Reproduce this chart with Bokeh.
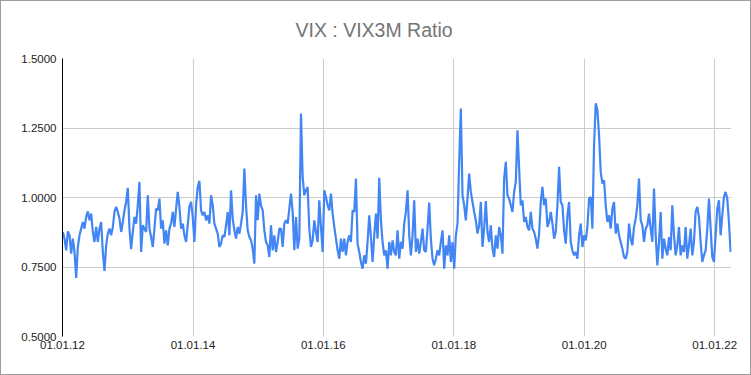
import pandas as pd
from bokeh.plotting import figure
from bokeh.models import (Range1d, FixedTicker, NumeralTickFormatter,
                          DatetimeTickFormatter, ColumnDataSource)
from bokeh.embed import file_html
from bokeh.resources import INLINE

title_text = "VIX : VIX3M Ratio"
start_date = "2012-01-03"
end_date = "2022-03-31"
tick_dates = ["2012-01-01", "2014-01-01", "2016-01-01",
              "2018-01-01", "2020-01-01", "2022-01-01"]
y_ticks = [0.5, 0.75, 1.0, 1.25, 1.5]

ratio = [
    0.876, 0.852, 0.810, 0.878, 0.864, 0.798, 0.852, 0.804, 0.711, 0.822,
    0.864, 0.888, 0.912, 0.888, 0.930, 0.950, 0.918, 0.942, 0.876, 0.840,
    0.894, 0.840, 0.888, 0.912, 0.804, 0.736, 0.828, 0.870, 0.888, 0.864,
    0.894, 0.948, 0.966, 0.948, 0.924, 0.876, 0.912, 0.954, 0.984, 1.035,
    0.888, 0.814, 0.876, 0.930, 0.906, 0.972, 1.056, 0.804, 0.900, 0.888,
    0.876, 1.008, 0.888, 0.858, 0.822, 0.888, 0.960, 0.954, 0.996, 0.888,
    0.918, 0.834, 0.882, 0.828, 0.888, 0.906, 0.948, 0.894, 0.960, 1.020,
    0.966, 0.888, 0.906, 0.864, 0.840, 0.900, 0.966, 0.984, 0.930, 0.840,
    0.972, 1.038, 1.060, 0.954, 0.936, 0.948, 0.918, 0.936, 0.906, 1.008,
    0.972, 0.906, 0.888, 0.870, 0.822, 0.834, 0.864, 0.858, 0.900, 0.948,
    0.864, 1.026, 0.924, 0.882, 0.852, 0.894, 0.870, 0.906, 0.948, 1.104,
    0.972, 0.882, 0.858, 0.846, 0.816, 0.762, 1.008, 0.918, 1.014, 0.972,
    0.954, 0.882, 0.840, 0.828, 0.786, 0.900, 0.810, 0.864, 0.804, 0.840,
    0.888, 0.888, 0.822, 0.906, 0.918, 0.906, 0.960, 1.014, 0.948, 0.810,
    0.930, 0.816, 0.852, 1.302, 1.074, 1.008, 1.026, 1.038, 0.888, 0.822,
    0.846, 0.918, 0.876, 0.840, 0.990, 0.894, 0.804, 1.026, 1.002, 0.972,
    0.954, 1.014, 0.942, 0.894, 0.852, 0.810, 0.780, 0.852, 0.804, 0.852,
    0.792, 0.840, 0.864, 0.840, 0.954, 0.948, 1.068, 0.834, 0.804, 0.768,
    0.744, 0.792, 0.762, 0.840, 0.936, 0.858, 0.768, 0.864, 0.942, 0.852,
    1.071, 0.918, 0.840, 0.792, 0.810, 0.744, 0.840, 0.792, 0.846, 0.804,
    0.792, 0.882, 0.780, 0.840, 0.816, 0.906, 0.948, 1.026, 0.864, 0.792,
    0.864, 0.990, 0.804, 0.852, 0.798, 0.840, 0.888, 0.810, 0.804, 0.888,
    0.982, 0.852, 0.780, 0.756, 0.780, 0.810, 0.792, 0.840, 0.882, 0.744,
    0.828, 0.792, 0.864, 0.768, 0.840, 0.744, 0.864, 0.906, 1.128, 1.320,
    1.008, 0.972, 0.918, 0.996, 1.086, 1.020, 0.984, 0.948, 0.918, 0.870,
    0.900, 0.984, 0.822, 0.888, 0.987, 0.876, 0.840, 0.900, 0.816, 0.786,
    0.864, 0.816, 0.894, 0.864, 0.798, 1.068, 1.128, 1.008, 0.996, 0.972,
    0.948, 1.020, 1.056, 1.242, 1.104, 0.972, 0.990, 0.912, 0.930, 0.894,
    0.882, 0.948, 0.888, 0.876, 0.852, 0.816, 0.870, 0.984, 1.038, 0.972,
    0.996, 0.894, 0.912, 0.948, 0.906, 0.852, 0.876, 0.972, 1.110, 0.984,
    0.972, 0.882, 0.834, 0.936, 0.984, 0.840, 0.810, 0.792, 0.804, 0.780,
    0.864, 0.906, 0.822, 0.864, 0.846, 0.894, 0.996, 1.002, 0.888, 1.188,
    1.339, 1.315, 1.224, 1.092, 1.050, 1.062, 0.972, 0.912, 0.936, 0.888,
    0.960, 0.984, 0.870, 0.906, 0.864, 0.840, 0.816, 0.786, 0.780, 0.804,
    0.906, 0.852, 0.828, 0.894, 0.924, 0.972, 1.068, 0.918, 0.900, 0.840,
    0.888, 0.900, 0.942, 0.888, 0.840, 1.032, 0.864, 0.756, 0.840, 0.948,
    0.780, 0.852, 0.816, 0.792, 0.858, 0.810, 0.972, 0.864, 0.792, 0.828,
    0.894, 0.792, 0.828, 0.804, 0.894, 0.780, 0.828, 0.888, 0.792, 0.840,
    0.948, 0.966, 0.930, 0.840, 0.768, 0.792, 0.810, 0.888, 0.996, 0.888,
    0.786, 0.768, 0.864, 0.960, 0.990, 0.864, 0.936, 1.002, 1.020, 0.996,
    0.912, 0.804,
]

dates = pd.date_range(start_date, end_date, periods=len(ratio))
src = ColumnDataSource(dict(date=dates, ratio=ratio))

p = figure(
    x_axis_type="datetime",
    frame_width=669, frame_height=278,
    min_border_left=61, min_border_right=19,
    min_border_top=57, min_border_bottom=38,
    x_range=Range1d(pd.Timestamp("2012-01-01"), pd.Timestamp("2022-04-05")),
    y_range=Range1d(0.5, 1.5),
    title=title_text,
    output_backend="svg", toolbar_location=None,
)
p.styles = {"border": "1px solid #9e9e9e"}

p.line("date", "ratio", source=src, line_color="#4285F4", line_width=2.2)

p.title.text_font = "Liberation Sans"
p.title.text_font_size = "19.5px"
p.title.text_font_style = "normal"
p.title.text_color = "#757575"
p.title.align = "left"
p.title.vertical_align = "top"
p.title.offset = 233
p.title.standoff = 32

p.outline_line_color = None
p.background_fill_color = "white"
p.border_fill_color = "white"

tick_ms = [pd.Timestamp(d).timestamp() * 1000 for d in tick_dates]
p.xaxis.ticker = FixedTicker(ticks=tick_ms)
fmt = "%d.%m.%y"
p.xaxis.formatter = DatetimeTickFormatter(
    milliseconds=fmt, seconds=fmt, minsec=fmt, minutes=fmt, hourmin=fmt,
    hours=fmt, days=fmt, months=fmt, years=fmt)
p.yaxis.ticker = FixedTicker(ticks=y_ticks)
p.yaxis.formatter = NumeralTickFormatter(format="0.0000")

for ax in (p.xaxis[0], p.yaxis[0]):
    ax.major_tick_line_color = None
    ax.minor_tick_line_color = None
    ax.major_tick_out = 0
    ax.major_tick_in = 0
    ax.minor_tick_out = 0
    ax.minor_tick_in = 0
    ax.major_label_text_font = "Liberation Sans"
    ax.major_label_text_font_size = "11.5px"
    ax.major_label_text_color = "#222222"

p.xaxis.axis_line_color = None
p.xaxis.major_label_standoff = 4
p.yaxis.axis_line_color = "black"
p.yaxis.axis_line_width = 1
p.yaxis.major_label_standoff = 6

p.xgrid.grid_line_color = "#cccccc"
p.ygrid.grid_line_color = "#cccccc"
p.xgrid.ticker = p.xaxis.ticker
p.ygrid.ticker = p.yaxis.ticker

open("out.html", "w").write(file_html(p, INLINE))
